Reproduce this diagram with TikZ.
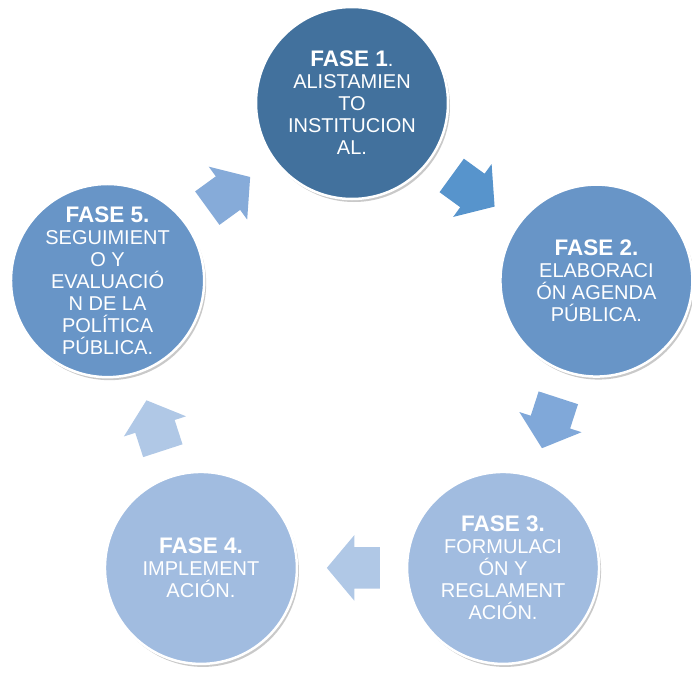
\documentclass[tikz,border=0pt]{standalone}
\usepackage{fontspec}
\setmainfont{Liberation Sans}
\usetikzlibrary{shapes.arrows,shadows,calc}

\definecolor{faseA}{RGB}{66,113,157}
\definecolor{faseB}{RGB}{104,149,199}
\definecolor{faseC}{RGB}{161,188,224}
\definecolor{flechaA}{RGB}{87,148,204}
\definecolor{flechaB}{RGB}{128,168,217}
\definecolor{flechaC}{RGB}{176,200,230}
\definecolor{flechaD}{RGB}{134,171,217}

\newcommand{\fasetit}[1]{{\fontsize{22.5}{24}\selectfont\bfseries #1}}

\begin{document}
\begin{tikzpicture}[x=1pt, y=1pt,
  fase/.style={circle, draw=white, line width=2.5pt, minimum size=192pt, inner sep=0pt,
    text=white, align=center, font=\fontsize{20}{22}\selectfont,
    drop shadow={shadow xshift=2pt, shadow yshift=-3pt, opacity=0.3, fill=black!70}},
  flecha/.style={single arrow, draw=none, minimum height=53pt, inner xsep=0pt, inner ysep=20.5pt,
    single arrow head extend=12pt, single arrow tip angle=100}
]
\useasboundingbox (-352,-313) rectangle (340,360);
\node[fase, fill=faseA] (f1) at (90:257) {\fasetit{FASE 1}.\\ALISTAMIEN\\TO\\INSTITUCION\\AL.};
\node[fase, fill=faseB] (f2) at (18:257) {\fasetit{FASE 2.}\\ELABORACI\\ÓN AGENDA\\PÚBLICA.};
\node[fase, fill=faseC] (f3) at (-54:257) {\fasetit{FASE 3.}\\FORMULACI\\ÓN Y\\REGLAMENT\\ACIÓN.};
\node[fase, fill=faseC] (f4) at (-126:257) {\fasetit{FASE 4.}\\IMPLEMENT\\ACIÓN.};
\node[fase, fill=faseB] (f5) at (162:257) {\fasetit{FASE 5.}\\SEGUIMIENT\\O Y\\EVALUACIÓ\\N DE LA\\POLÍTICA\\PÚBLICA.};
\node[flecha, fill=flechaA, rotate=-36] (a12) at ($(f1)!0.5!(f2)!10pt!(f1)$) {};
\node[flecha, fill=flechaB, rotate=-108] (a23) at ($(f2)!0.5!(f3)!10pt!(f2)$) {};
\node[flecha, fill=flechaC, rotate=180] (a34) at ($(f3)!0.5!(f4)!10pt!(f3)$) {};
\node[flecha, fill=flechaC, rotate=108] (a45) at ($(f4)!0.5!(f5)!10pt!(f4)$) {};
\node[flecha, fill=flechaD, rotate=36] (a51) at ($(f5)!0.5!(f1)!10pt!(f5)$) {};
\end{tikzpicture}
\end{document}
